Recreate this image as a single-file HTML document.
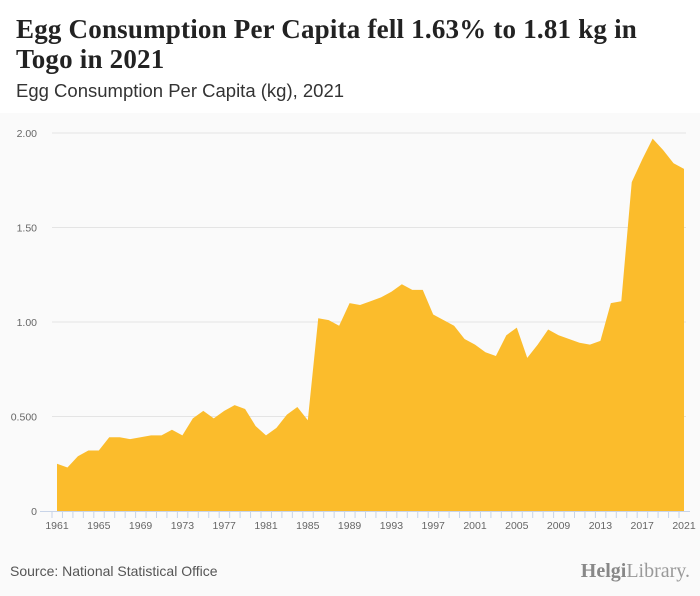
<!DOCTYPE html>
<html><head><meta charset="utf-8"><style>
body{margin:0;width:700px;height:596px;overflow:hidden;background:#fafafa;font-family:"Liberation Sans",sans-serif;position:relative}
#hdr{position:absolute;left:0;top:0;width:700px;height:113px;background:#fff}
h1{position:absolute;left:16px;top:14px;margin:0;font:bold 27px/30px "Liberation Serif",serif;color:#222;width:650px;letter-spacing:0.2px}
#sub{position:absolute;left:16px;top:80px;font-size:18.5px;color:#333}
#src{position:absolute;left:10px;top:563px;font-size:14px;color:#555}
#logo{position:absolute;right:10px;top:560px;font:20px "Liberation Serif",serif;color:#999}
</style></head><body>
<div id="hdr"></div>
<h1>Egg Consumption Per Capita fell 1.63% to 1.81 kg in Togo in 2021</h1>
<div id="sub">Egg Consumption Per Capita (kg), 2021</div>
<svg id="chart" width="700" height="596" style="position:absolute;left:0;top:0"></svg>
<div id="src">Source: National Statistical Office</div>
<div id="logo"><b style="color:#888">Helgi</b>Library.</div>
<script>
const years=[];for(let y=1961;y<=2021;y++)years.push(y);
const values=[.25,.23,.29,.32,.32,.39,.39,.38,.39,.40,.40,.43,.40,.49,.53,.49,.53,.56,.54,.45,.40,.44,.51,.55,.48,1.02,1.01,.98,1.10,1.09,1.11,1.13,1.16,1.20,1.17,1.17,1.04,1.01,.98,.91,.88,.84,.82,.93,.97,.81,.88,.96,.93,.91,.89,.88,.90,1.10,1.11,1.74,1.86,1.97,1.91,1.84,1.81];
const yTicks=[0,0.5,1,1.5,2];
const yTickLabels=["0","0.500","1.00","1.50","2.00"];
const svg=document.getElementById('chart');const NS='http://www.w3.org/2000/svg';
const x=yr=>57+(yr-1961)*(627/60);
const y=v=>511-v*189;
function mk(t,a){const e=document.createElementNS(NS,t);for(const k in a)e.setAttribute(k,a[k]);svg.appendChild(e);return e;}
yTicks.forEach((t,i)=>{
 if(t>0){const g=mk('line',{x1:52,x2:686,y1:y(t),y2:y(t),stroke:'#e4e4e4'});
 
 }
 const l=mk('text',{x:37,y:y(t)+4,'text-anchor':'end','font-size':10.5,fill:'#666','font-family':'Liberation Sans'});
 l.textContent=yTickLabels[i];
 
 
});
let d='M'+x(years[0])+','+y(0);
years.forEach((yr,i)=>{d+='L'+x(yr)+','+y(values[i]);});
d+='L'+x(years[years.length-1])+','+y(0)+'Z';
const a=mk('path',{d:d,fill:'#fbbc2c'});


const ax=mk('line',{x1:40,x2:690,y1:511.5,y2:511.5,stroke:'#c8d4e8'});


years.forEach(yr=>{
 const tk=mk('line',{x1:x(yr)-5,x2:x(yr)-5,y1:511,y2:518,stroke:'#c8d4e8'});
 
 
 if((yr-1961)%4===0){
  const t=mk('text',{x:x(yr),y:529,'text-anchor':'middle','font-size':10.5,fill:'#666','font-family':'Liberation Sans'});
  t.textContent=yr;
  
  
 }
});
</script>
</body></html>
